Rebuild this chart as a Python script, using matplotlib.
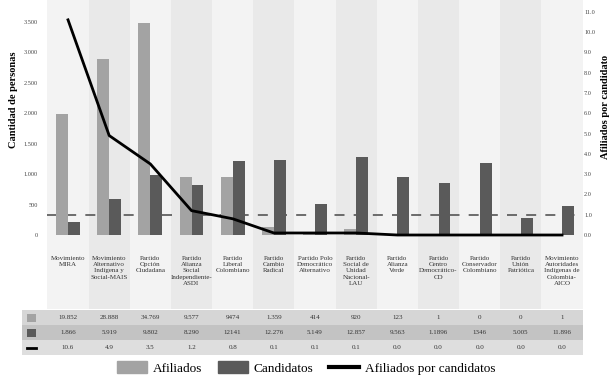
"""Afiliados vs candidatos per party, with a data table under the chart."""
import matplotlib
matplotlib.use("Agg")
import matplotlib.pyplot as plt
from matplotlib.lines import Line2D
from matplotlib.patches import Patch, Rectangle
from matplotlib.ticker import FuncFormatter, MultipleLocator
import matplotlib.transforms as mtransforms

plt.rcParams["font.family"] = ["Liberation Serif", "DejaVu Serif"]

partidos = [
    "Movimiento\nMIRA",
    "Movimiento\nAlternativo\nIndígena y\nSocial-MAIS",
    "Partido\nOpción\nCiudadana",
    "Partido\nAlianza\nSocial\nIndependiente-\nASDI",
    "Partido\nLiberal\nColombiano",
    "Partido\nCambio\nRadical",
    "Partido Polo\nDemocrático\nAlternativo",
    "Partido\nSocial de\nUnidad\nNacional-\nLAU",
    "Partido\nAlianza\nVerde",
    "Partido\nCentro\nDemocrático-\nCD",
    "Partido\nConservador\nColombiano",
    "Partido\nUnión\nPatriótica",
    "Movimiento\nAutoridades\nIndígenas de\nColombia-\nAICO",
]

# bar values (persons), plotted in tens on the left axis
afiliados = [19852, 28888, 34769, 9577, 9474, 1359, 414, 920, 123, 1, 0, 0, 1]
candidatos = [2200, 5919, 9802, 8290, 12141, 12276, 5149, 12857, 9563, 8560, 11850, 2800, 4750]
afiliados_por_candidato = [10.6, 4.9, 3.5, 1.2, 0.8, 0.1, 0.1, 0.1, 0.0, 0.0, 0.0, 0.0, 0.0]
referencia = 1.0

# table text as printed in the source
tabla_afiliados = ["19.852", "28.888", "34.769", "9.577", "9474", "1.359", "414",
                   "920", "123", "1", "0", "0", "1"]
tabla_candidatos = ["1.866", "5.919", "9.802", "8.290", "12141", "12.276", "5.149",
                    "12.857", "9.563", "1.1896", "1346", "5.005", "11.896"]
tabla_ratio = ["10.6", "4.9", "3.5", "1.2", "0.8", "0.1", "0.1", "0.1", "0.0",
               "0.0", "0.0", "0.0", "0.0"]

C_AFIL = "#a3a3a3"
C_CAND = "#5a5a5a"
ESCALA = 10          # bars drawn in tens
RIGHT_MAX = 11.43
LEFT_PER_RIGHT = 1000 / 3

fig = plt.figure(figsize=(6.12, 3.81), dpi=100)
ax = fig.add_axes([0.0775, 0.3753, 0.8745, 0.6168])
ax2 = ax.twinx()

n = len(partidos)
x = list(range(n))
ax.set_xlim(-0.5, n - 0.5)
ax.set_ylim(-0.148 * LEFT_PER_RIGHT, RIGHT_MAX * LEFT_PER_RIGHT)
ax2.set_ylim(-0.148, RIGHT_MAX)

# alternating background bands, running down through the category labels
for i in x:
    color = "#f3f3f3" if i % 2 == 0 else "#e9e9e9"
    ax.axvspan(i - 0.5, i + 0.5, ymin=-0.30, ymax=1.02, color=color, lw=0,
               zorder=0, clip_on=False)

w = 0.29
ax.bar([i - w / 2 for i in x], [v / ESCALA for v in afiliados], width=w,
       color=C_AFIL, zorder=3)
ax.bar([i + w / 2 for i in x], [v / ESCALA for v in candidatos], width=w,
       color=C_CAND, zorder=3)
ax.axhline(referencia * LEFT_PER_RIGHT, color="#555555", lw=1.2,
           dashes=(6, 5.5), zorder=2)

ax2.plot(x, afiliados_por_candidato, color="black", lw=2, zorder=4)

for a in (ax, ax2):
    for s in a.spines.values():
        s.set_visible(False)
    a.tick_params(length=0, labelsize=4.5, colors="#444444")
ax.set_xticks([])
ax.yaxis.set_major_locator(MultipleLocator(500))
ax.yaxis.set_major_formatter(FuncFormatter(lambda v, p: f"{int(v):,}".replace(",", ".")))
ax.set_ylim(-0.148 * LEFT_PER_RIGHT, RIGHT_MAX * LEFT_PER_RIGHT)
ax.set_yticks([v for v in range(0, 3501, 500)])
ax.tick_params(axis="y", pad=7)
ax2.set_yticks([float(v) for v in range(0, 12)])
ax2.yaxis.set_major_formatter(FuncFormatter(lambda v, p: f"{v:.1f}"))
ax2.tick_params(axis="y", pad=1)

ax.set_ylabel("Cantidad de personas", fontsize=7.5, fontweight="bold")
ax.yaxis.set_label_coords(-0.055, 0.587)
ax2.set_ylabel("Afiliados por candidato", fontsize=7.5, fontweight="bold",
               rotation=90)
ax2.yaxis.set_label_coords(1.034, 0.557)

trans = mtransforms.blended_transform_factory(ax.transData, ax.transAxes)
for i, name in enumerate(partidos):
    ax.text(i, -0.075, name, transform=trans, ha="center", va="top",
            fontsize=5, linespacing=1.35, color="#333333")

# data table
px = 1 / 235.0
rows = [(tabla_afiliados, "#d6d6d6"), (tabla_candidatos, "#c3c3c3"),
        (tabla_ratio, "#dedede")]
row_h = 15 * px
top = -72 * px
key_left = -1.12
for r, (vals, bg) in enumerate(rows):
    y0 = top - (r + 1) * row_h
    ax.add_patch(Rectangle((key_left, y0), n - 0.5 - key_left, row_h,
                           transform=trans, color=bg, lw=0, clip_on=False))
    for i, t in enumerate(vals):
        ax.text(i, y0 + row_h / 2, t, transform=trans, ha="center",
                va="center", fontsize=5, color="#333333")
    kx = key_left + 0.12
    if r < 2:
        ax.add_patch(Rectangle((kx, y0 + 3.5 * px), 0.22, row_h - 7 * px,
                               transform=trans, color=[C_AFIL, C_CAND][r],
                               lw=0, clip_on=False))
    else:
        ax.plot([kx, kx + 0.22], [y0 + row_h / 2] * 2, transform=trans,
                color="black", lw=2, clip_on=False)

handles = [Patch(color=C_AFIL), Patch(color=C_CAND),
           Line2D([], [], color="black", lw=3)]
fig.legend(handles, ["Afiliados", "Candidatos", "Afiliados por candidatos"],
           loc="center", bbox_to_anchor=(0.5, 0.034), ncol=3, frameon=False,
           fontsize=9.5, handlelength=2.3, handleheight=1.0,
           columnspacing=1.2, handletextpad=0.4)

fig.savefig("out.png", dpi=100)
